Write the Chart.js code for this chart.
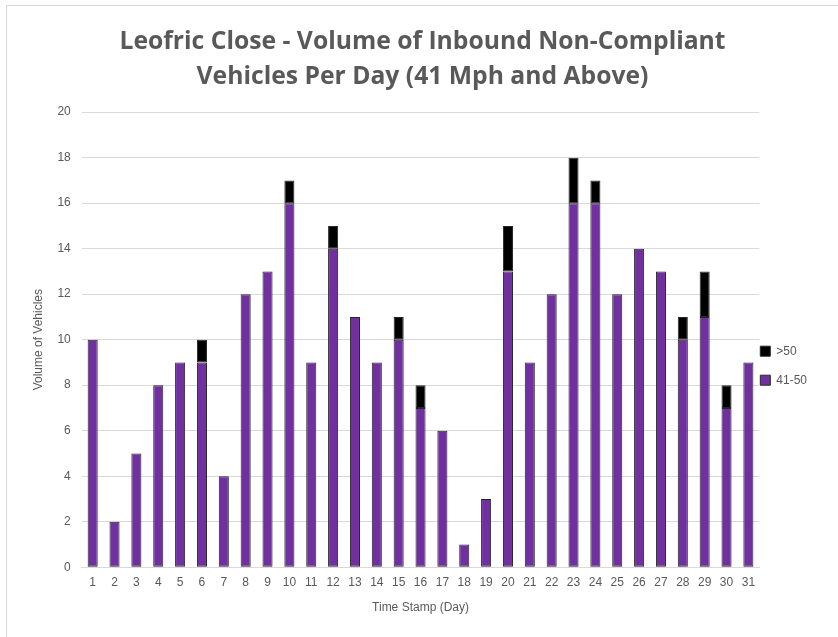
<!DOCTYPE html>
<html>
<head>
<meta charset="utf-8">
<script src="https://cdn.jsdelivr.net/npm/chart.js@4.4.1/dist/chart.umd.min.js"></script>
<style>
  html, body { margin: 0; padding: 0; background: #fff; overflow: hidden; }
  #frame { position: absolute; left: 6px; top: 5px; width: 850px; height: 650px; border: 1px solid #d9d9d9; box-sizing: border-box; }
  #wrap { position: absolute; left: 0; top: 0; width: 838px; height: 637px; }
</style>
</head>
<body>
<div id="frame"></div>
<div id="wrap"><canvas id="chart" width="838" height="637"></canvas></div>
<script>
const days = ["1","2","3","4","5","6","7","8","9","10","11","12","13","14","15","16","17","18","19","20","21","22","23","24","25","26","27","28","29","30","31"];
const speed41to50 = [10, 2, 5, 8, 9, 9, 4, 12, 13, 16, 9, 14, 11, 9, 10, 7, 6, 1, 3, 13, 9, 12, 16, 16, 12, 14, 13, 10, 11, 7, 9];
const speedOver50 = [0, 0, 0, 0, 0, 1, 0, 0, 0, 1, 0, 1, 0, 0, 1, 1, 0, 0, 0, 2, 0, 0, 2, 1, 0, 0, 0, 1, 2, 1, 0];

const axisFont = { family: "'Liberation Sans', Arial, sans-serif", size: 12 };

// nudge the legend a bit closer to the plot, like the original
const legendNudge = {
  id: "legendNudge",
  afterLayout(chart) {
    const lg = chart.legend;
    if (lg) { lg.left -= 16; lg.right -= 16; }
  }
};

const ctx = document.getElementById("chart").getContext("2d");
new Chart(ctx, {
  type: "bar",
  data: {
    labels: days,
    datasets: [
      {
        label: "41-50",
        data: speed41to50,
        backgroundColor: "#7030a0",
        borderColor: "#262626",
        borderWidth: 1,
        borderSkipped: false,
        barPercentage: 0.46,
        categoryPercentage: 1
      },
      {
        label: ">50",
        data: speedOver50,
        backgroundColor: "#000000",
        borderColor: "#262626",
        borderWidth: 1,
        borderSkipped: false,
        barPercentage: 0.46,
        categoryPercentage: 1
      }
    ]
  },
  plugins: [legendNudge],
  options: {
    responsive: false,
    animation: false,
    layout: { padding: { left: 12, right: 5, top: 14, bottom: 18 } },
    plugins: {
      title: {
        display: true,
        text: ["Leofric Close - Volume of Inbound Non-Compliant", "Vehicles Per Day (41 Mph and Above)"],
        color: "#595959",
        font: { family: "'Open Sans', Lato, sans-serif", size: 24.7, weight: "bold", lineHeight: 1.42 },
        padding: { top: 10, bottom: 18 }
      },
      legend: {
        position: "right",
        reverse: true,
        title: { display: true, text: " ", font: { size: 12 }, padding: { top: 0, bottom: 84 } },
        labels: {
          boxWidth: 10,
          boxHeight: 10,
          color: "#595959",
          font: axisFont,
          padding: 17
        }
      },
      tooltip: { enabled: false }
    },
    scales: {
      x: {
        stacked: true,
        grid: { display: false },
        border: { color: "#d9d9d9", width: 1 },
        ticks: { color: "#595959", font: axisFont, padding: 0, maxRotation: 0, autoSkip: false },
        title: { display: true, text: "Time Stamp (Day)", color: "#595959", font: axisFont, padding: { top: 11, bottom: 4 } }
      },
      y: {
        stacked: true,
        min: 0,
        max: 20,
        ticks: { stepSize: 2, color: "#595959", padding: 11, font: axisFont },
        grid: { color: "#d9d9d9", drawTicks: false },
        border: { display: false },
        title: { display: true, text: "Volume of Vehicles", color: "#595959", font: axisFont, padding: { top: 19, bottom: 1 } }
      }
    }
  }
});
</script>
</body>
</html>
